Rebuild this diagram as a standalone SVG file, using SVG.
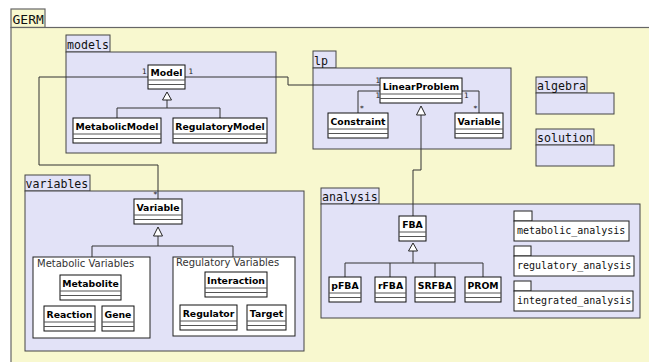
<svg xmlns="http://www.w3.org/2000/svg" width="649" height="362" viewBox="0 0 649 362">
<defs>
<style>
.germ{fill:#f8f8cf;stroke:#666;stroke-width:1.2}
.pkg{fill:#e2e2f7;stroke:#444;stroke-width:1}
.grp{fill:#fff;stroke:#222;stroke-width:1}
.cls{fill:#fff;stroke:#111;stroke-width:1}
.sep{stroke:#555;stroke-width:1;fill:none}
.mono{font-family:"DejaVu Sans Mono",monospace;fill:#111}
.cn{font-family:"DejaVu Sans",sans-serif;font-weight:bold;font-size:9.3px;fill:#000;text-anchor:middle}
.lbl{font-family:"DejaVu Sans",sans-serif;font-size:10px;fill:#333}
.mult{font-family:"DejaVu Sans",sans-serif;font-size:7.5px;fill:#222}
.edge{fill:none;stroke:#333;stroke-width:1}
.tri{fill:#fff;stroke:#222;stroke-width:1}
</style>
</defs>
<rect width="649" height="362" fill="#fff"/>
<g id="germ">
<rect class="germ" x="11" y="9" width="34" height="18.5"/>
<rect class="germ" x="11" y="27.5" width="660" height="360"/>
<text class="mono" x="12.5" y="24" font-size="13px">GERM</text>
</g>
<g id="models">
<rect class="pkg" x="66" y="35" width="44" height="17"/>
<rect class="pkg" x="66" y="52" width="210" height="101"/>
<text class="mono" x="67" y="48.5" font-size="11.6px">models</text>
</g>
<g id="lp">
<rect class="pkg" x="313" y="51" width="23" height="17"/>
<rect class="pkg" x="313" y="68" width="198" height="81"/>
<text class="mono" x="314" y="64.5" font-size="11.6px">lp</text>
</g>
<g id="algebra">
<rect class="pkg" x="536" y="77" width="51" height="16"/>
<rect class="pkg" x="536" y="93" width="78" height="21"/>
<text class="mono" x="537" y="89.5" font-size="11.6px">algebra</text>
</g>
<g id="solution">
<rect class="pkg" x="536" y="129" width="58" height="16"/>
<rect class="pkg" x="536" y="145" width="78" height="21"/>
<text class="mono" x="537" y="141.5" font-size="11.6px">solution</text>
</g>
<g id="variables">
<rect class="pkg" x="25" y="175" width="65" height="16"/>
<rect class="pkg" x="25" y="191" width="279" height="160"/>
<text class="mono" x="25.5" y="187.5" font-size="11.6px">variables</text>
</g>
<g id="analysis">
<rect class="pkg" x="321" y="188" width="58" height="16"/>
<rect class="pkg" x="321" y="204" width="319" height="114"/>
<text class="mono" x="322" y="200.5" font-size="11.6px">analysis</text>
</g>
<g id="metabolic_analysis">
<rect class="grp" x="514" y="211" width="18" height="10"/>
<rect class="grp" x="514" y="221" width="115" height="20"/>
<text class="mono" x="517" y="234" font-size="10px">metabolic_analysis</text>
</g>
<g id="regulatory_analysis">
<rect class="grp" x="514" y="246" width="17" height="10"/>
<rect class="grp" x="514" y="256" width="120" height="20"/>
<text class="mono" x="517" y="269" font-size="10px">regulatory_analysis</text>
</g>
<g id="integrated_analysis">
<rect class="grp" x="514" y="281" width="17" height="10"/>
<rect class="grp" x="514" y="291" width="119" height="20"/>
<text class="mono" x="517" y="304" font-size="10px">integrated_analysis</text>
</g>
<g id="metabolic_variables">
<rect class="grp" x="33" y="257" width="117" height="81"/>
<text class="lbl" x="37" y="267">Metabolic Variables</text>
</g>
<g id="regulatory_variables">
<rect class="grp" x="173" y="257" width="122" height="79"/>
<text class="lbl" x="176" y="266">Regulatory Variables</text>
</g>
<g id="connectors">
<polyline class="edge" points="148,77 39,77 39,165 158,165 158,199"/>
<polyline class="edge" points="185,77 288,77 288,85 380,85"/>
<polyline class="edge" points="380,91 358,91 358,113"/>
<polyline class="edge" points="462,91 479,91 479,113"/>
<polyline class="edge" points="167,100 167,108"/>
<polyline class="edge" points="117,118 117,108 220,108 220,118"/>
<polyline class="edge" points="421,115 421,170 413,170 413,216"/>
<polyline class="edge" points="158,236 158,246"/>
<polyline class="edge" points="92,257 92,246 233,246 233,257"/>
<polyline class="edge" points="413,251 413,263"/>
<polyline class="edge" points="345,277 345,263 483,263 483,277"/>
<line class="edge" x1="390" y1="263" x2="390" y2="277"/>
<line class="edge" x1="435" y1="263" x2="435" y2="277"/>
<polygon class="tri" points="167,92 162.5,100 171.5,100"/>
<polygon class="tri" points="421,106 416.5,115 425.5,115"/>
<polygon class="tri" points="158,227 153.5,236 162.5,236"/>
<polygon class="tri" points="413,243 408.5,251 417.5,251"/>
<text class="mult" x="142" y="74">1</text>
<text class="mult" x="188.5" y="74">1</text>
<text class="mult" x="375.5" y="82.5">1</text>
<text class="mult" x="375.5" y="97.5">1</text>
<text class="mult" x="464" y="97.5">1</text>
<text class="mult" x="360" y="111">*</text>
<text class="mult" x="473.5" y="111">*</text>
<text class="mult" x="153.5" y="197">*</text>
</g>
<g id="Model">
<rect class="cls" x="148" y="65" width="37" height="24"/>
<path class="sep" d="M148 80H185M148 84.5H185"/>
<text class="cn" x="166.5" y="76">Model</text>
</g>
<g id="MetabolicModel">
<rect class="cls" x="73" y="118" width="88" height="25"/>
<path class="sep" d="M73 134H161M73 138.5H161"/>
<text class="cn" x="117" y="130">MetabolicModel</text>
</g>
<g id="RegulatoryModel">
<rect class="cls" x="173" y="118" width="94" height="25"/>
<path class="sep" d="M173 134H267M173 138.5H267"/>
<text class="cn" x="220" y="130">RegulatoryModel</text>
</g>
<g id="LinearProblem">
<rect class="cls" x="380" y="78" width="82" height="25"/>
<path class="sep" d="M380 94H462M380 98.5H462"/>
<text class="cn" x="421" y="89.5">LinearProblem</text>
</g>
<g id="Constraint">
<rect class="cls" x="328" y="113" width="60" height="25"/>
<path class="sep" d="M328 129H388M328 133.5H388"/>
<text class="cn" x="358" y="124.5">Constraint</text>
</g>
<g id="LpVariable">
<rect class="cls" x="455" y="113" width="48" height="25"/>
<path class="sep" d="M455 129H503M455 133.5H503"/>
<text class="cn" x="479" y="124.5">Variable</text>
</g>
<g id="Variable">
<rect class="cls" x="134" y="199" width="48" height="25"/>
<path class="sep" d="M134 215H182M134 219.5H182"/>
<text class="cn" x="158" y="210.5">Variable</text>
</g>
<g id="Metabolite">
<rect class="cls" x="60" y="275" width="61" height="25"/>
<path class="sep" d="M60 291H121M60 295.5H121"/>
<text class="cn" x="90.5" y="286.5">Metabolite</text>
</g>
<g id="Reaction">
<rect class="cls" x="44" y="306" width="51" height="25"/>
<path class="sep" d="M44 322H95M44 326.5H95"/>
<text class="cn" x="69.5" y="317.5">Reaction</text>
</g>
<g id="Gene">
<rect class="cls" x="102" y="306" width="32" height="25"/>
<path class="sep" d="M102 322H134M102 326.5H134"/>
<text class="cn" x="118" y="317.5">Gene</text>
</g>
<g id="Interaction">
<rect class="cls" x="205" y="272" width="62" height="25"/>
<path class="sep" d="M205 288H267M205 292.5H267"/>
<text class="cn" x="236" y="283.5">Interaction</text>
</g>
<g id="Regulator">
<rect class="cls" x="180" y="305" width="57" height="25"/>
<path class="sep" d="M180 321H237M180 325.5H237"/>
<text class="cn" x="208.5" y="316.5">Regulator</text>
</g>
<g id="Target">
<rect class="cls" x="247" y="305" width="39" height="25"/>
<path class="sep" d="M247 321H286M247 325.5H286"/>
<text class="cn" x="266.5" y="316.5">Target</text>
</g>
<g id="FBA">
<rect class="cls" x="399" y="216" width="27" height="25"/>
<path class="sep" d="M399 232H426M399 236.5H426"/>
<text class="cn" x="412.5" y="227.5">FBA</text>
</g>
<g id="pFBA">
<rect class="cls" x="329" y="277" width="32" height="25"/>
<path class="sep" d="M329 293H361M329 297.5H361"/>
<text class="cn" x="345" y="288.5">pFBA</text>
</g>
<g id="rFBA">
<rect class="cls" x="375" y="277" width="31" height="25"/>
<path class="sep" d="M375 293H406M375 297.5H406"/>
<text class="cn" x="390.5" y="288.5">rFBA</text>
</g>
<g id="SRFBA">
<rect class="cls" x="415" y="277" width="40" height="25"/>
<path class="sep" d="M415 293H455M415 297.5H455"/>
<text class="cn" x="435" y="288.5">SRFBA</text>
</g>
<g id="PROM">
<rect class="cls" x="465" y="277" width="36" height="25"/>
<path class="sep" d="M465 293H501M465 297.5H501"/>
<text class="cn" x="483" y="288.5">PROM</text>
</g>
</svg>
